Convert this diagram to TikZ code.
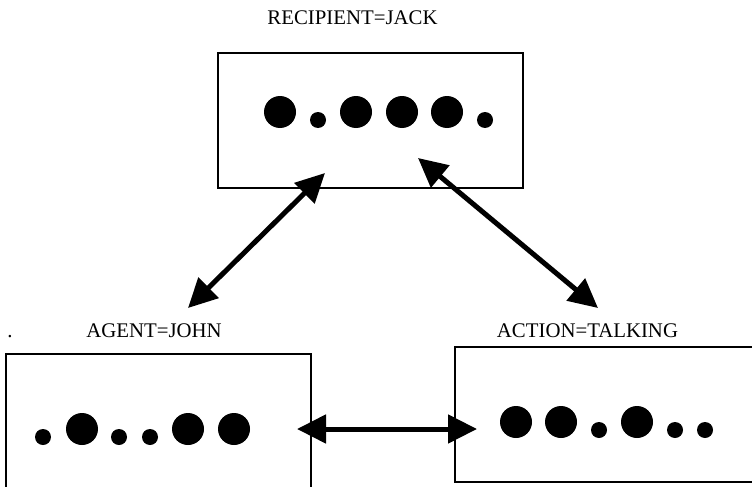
\documentclass[tikz,border=0pt]{standalone}
\usepackage{fontspec}
\setmainfont{Liberation Serif}
\usetikzlibrary{arrows.meta}
\begin{document}
\begin{tikzpicture}[x=1pt,y=-1pt,>={Triangle[length=29pt,width=28pt]},
    frame/.style={draw,line width=1.1pt,minimum width=305pt,minimum height=135pt,inner sep=0pt},
    lbl/.style={anchor=base,font=\fontsize{20.8}{24}\selectfont}]
    \useasboundingbox (0,0) rectangle (752,487);
    \node[frame](recipient) at (370.5,120.5) {};
    \node[frame](agent) at (158.5,421.5) {};
    \node[frame](action) at (607.5,414.5) {};
    \node[lbl](reciplbl) at (352.5,24.5) {RECIPIENT=JACK};
    \node[lbl](agentlbl) at (154,337) {AGENT=JOHN};
    \node[lbl](actionlbl) at (587.5,337) {ACTION=TALKING};
    \node[lbl](dot) at (10,337) {.};
    % big dots r=16, small dots r=8, resting on one line
    \foreach \x/\r in {280/16,318/8,356/16,402/16,447/16,485/8}
        \fill (\x,128) ++(0,-\r) circle (\r pt);
    \foreach \x/\r in {43/8,82/16,119/8,150/8,188/16,234/16}
        \fill (\x,445) ++(0,-\r) circle (\r pt);
    \foreach \x/\r in {516/16,561/16,599/8,637/16,675/8,705/8}
        \fill (\x,438) ++(0,-\r) circle (\r pt);
    \coordinate (a1) at (188,308);
    \coordinate (r1) at (325,173);
    \coordinate (r2) at (418,158);
    \coordinate (c1) at (598,308);
    \coordinate (a2) at (297,429);
    \coordinate (c2) at (477,429);
    \draw[<->,line width=5pt](a1)--(r1);
    \draw[<->,line width=5pt](r2)--(c1);
    \draw[<->,line width=5pt](a2)--(c2);
\end{tikzpicture}
\end{document}
